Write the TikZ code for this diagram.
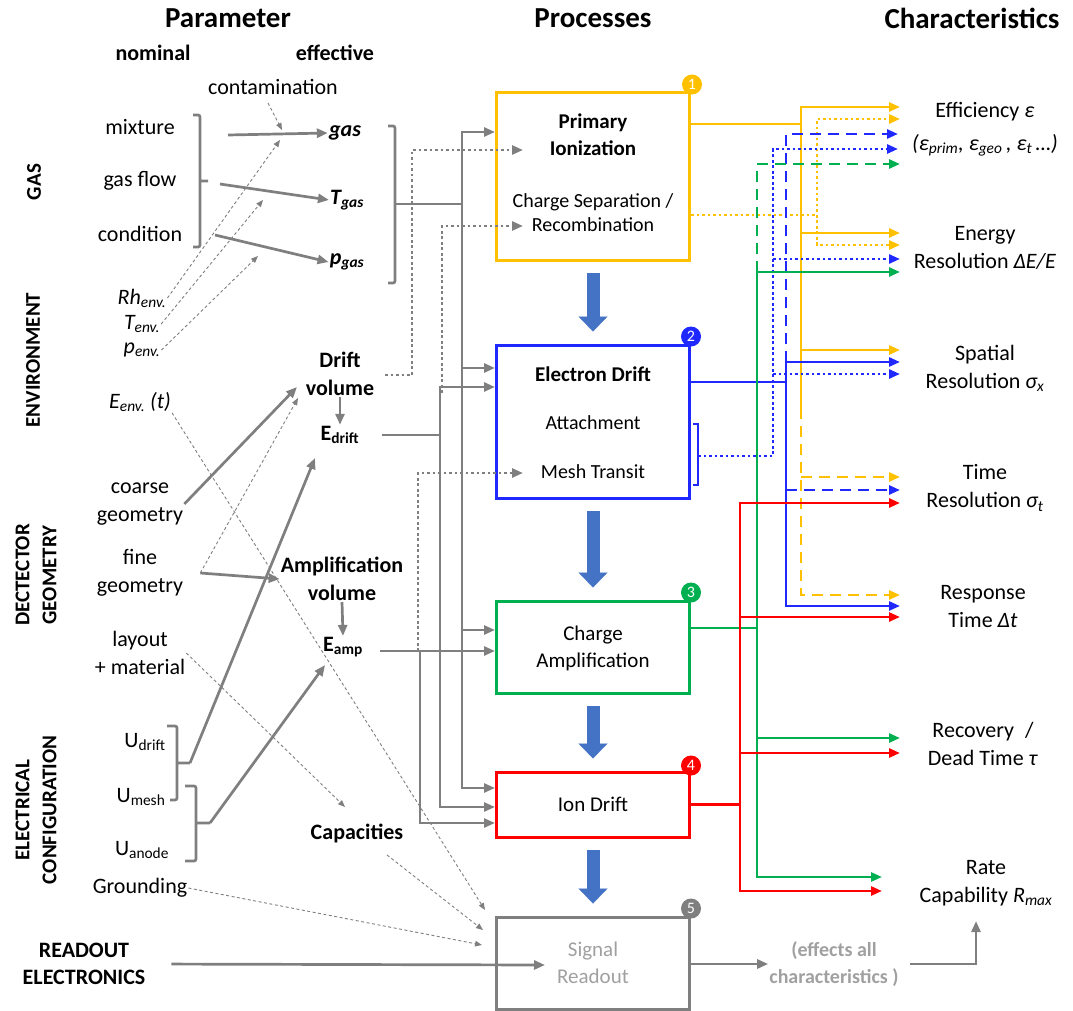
\documentclass[tikz,border=0pt]{standalone}
\usepackage{fontspec}
\setmainfont{Carlito}
\usepackage{xcolor}
\usepackage{tikz}
\usetikzlibrary{arrows.meta, positioning, calc}

\definecolor{lgray}{RGB}{127,127,127}
\definecolor{pale}{RGB}{160,160,160}
\definecolor{cyel}{RGB}{255,192,0}
\definecolor{cblu}{RGB}{30,40,255}
\definecolor{cgrn}{RGB}{0,176,80}
\definecolor{cred}{RGB}{255,0,0}
\definecolor{flowblue}{RGB}{68,114,196}

\begin{document}
\begin{tikzpicture}[x=1pt, y=-1pt,
    txt/.style={font=\fontsize{22}{28}\selectfont, align=center, inner sep=1pt},
    btxt/.style={txt, font=\fontsize{22}{28}\selectfont\bfseries},
    hdr/.style={font=\fontsize{29}{32}\selectfont\bfseries, inner sep=1pt},
    grp/.style={font=\fontsize{21}{27}\selectfont\bfseries, align=center, rotate=90, inner sep=1pt},
    proc/.style={draw=#1, line width=3pt, minimum width=193pt, inner sep=0pt},
    ttl/.style={font=\fontsize{21}{27}\selectfont\bfseries, align=center, inner sep=1pt},
    ptxt/.style={font=\fontsize{20}{24}\selectfont, align=center, inner sep=1pt},
    badge/.style={circle, fill=#1, text=white, inner sep=0pt, minimum size=20pt, font=\fontsize{16}{16}\selectfont},
    atip/.style={-{Triangle[length=11pt, width=9pt]}},
    gline/.style={draw=lgray, line width=2.7pt},
    garrow/.style={gline, atip},
    gdot/.style={gline, dash pattern=on 2.7pt off 2.8pt, atip},
    gdash/.style={draw=lgray, line width=0.9pt, dash pattern=on 3pt off 2.5pt, -{Triangle[length=7pt, width=5.5pt]}},
    brk/.style={draw=lgray, line width=2.7pt, rounded corners=2pt},
    cl/.style={draw=#1, line width=2.7pt},
    cdash/.style={dash pattern=on 11pt off 7pt},
    cdot/.style={dash pattern=on 2.7pt off 2.8pt},
    flow/.style={draw=flowblue, line width=13pt, -{Triangle[length=15pt, width=29pt, line width=0.1pt]}, shorten <=11pt, shorten >=12pt}
  ]
  \useasboundingbox (0,0) rectangle (1073,1011);

  % Headers
  \node[hdr] (hpar) at (228,18) {Parameter};
  \node[hdr] (hproc) at (593,18) {Processes};
  \node[hdr] (hchar) at (972,18) {Characteristics};
  \node[btxt] (hnom) at (153,53) {nominal};
  \node[btxt] (heff) at (335,53) {effective};

  % Groups
  \node[grp] (ggas) at (34,182) {GAS};
  \node[grp] (genv) at (33,360) {ENVIRONMENT};
  \node[grp] (ggeo) at (36,575) {DECTECTOR\\GEOMETRY};
  \node[grp] (gele) at (36,810) {ELECTRICAL\\CONFIGURATION};
  \node[btxt, font=\fontsize{22}{27}\selectfont\bfseries] (gread) at (84,964) {READOUT\\ELECTRONICS};

  % Nominal parameters
  \node[txt] (mix) at (140,127) {mixture};
  \node[txt] (gflow) at (140,181) {gas flow};
  \node[txt] (cond) at (140,234) {condition};
  \node[txt] (rh) at (142,298) {\textit{Rh\textsubscript{env.}}};
  \node[txt] (tenv) at (142,324) {\textit{T\textsubscript{env.}}};
  \node[txt] (penv) at (142,350) {\textit{p\textsubscript{env.}}};
  \node[txt] (eenv) at (140,402) {\textit{E\textsubscript{env.} (t)}};
  \node[txt] (coarse) at (140,504) {coarse\\geometry};
  \node[txt] (fine) at (140,573) {fine\\geometry};
  \node[txt] (layout) at (140,653) {layout\\+ material};
  \node[txt] (udrift) at (145,742) {U\textsubscript{drift}};
  \node[txt] (umesh) at (141,797) {U\textsubscript{mesh}};
  \node[txt] (uanode) at (142,850) {U\textsubscript{anode}};
  \node[txt] (ground) at (140,888) {Grounding};

  % Effective parameters
  \node[txt] (contam) at (273,87) {contamination};
  \node[btxt] (gas) at (345,133) {\textit{gas}};
  \node[btxt] (tgas) at (347,200) {\textit{T\textsubscript{gas}}};
  \node[btxt] (pgas) at (347,262) {\textit{p\textsubscript{gas}}};
  \node[btxt] (dvol) at (340,374) {Drift\\volume};
  \node[btxt] (edrift) at (340,435) {E\textsubscript{drift}};
  \node[btxt] (avol) at (342,579) {Amplification\\volume};
  \node[btxt] (eamp) at (343,647) {E\textsubscript{amp}};
  \node[btxt] (cap) at (357,833) {Capacities};

  % Processes
  \node[proc=cyel, minimum height=167pt] (pi) at (593,176.5) {};
  \node[proc=cblu, minimum height=153pt] (ed) at (593,421.5) {};
  \node[proc=cgrn, minimum height=92pt] (ca) at (593,647) {};
  \node[proc=cred, minimum height=65pt] (id) at (593,804.5) {};
  \node[proc=lgray, minimum height=92pt] (sr) at (593,963) {};

  \node[ttl] (pit) at (593,135) {Primary\\Ionization};
  \node[ptxt] (pis) at (593,213) {Charge Separation /\\Recombination};
  \node[ttl] (edt) at (593,374) {Electron Drift};
  \node[ptxt] (eda) at (593,423) {Attachment};
  \node[ptxt] (edm) at (593,472) {Mesh Transit};
  \node[ptxt, font=\fontsize{21}{27}\selectfont] (cat) at (593,648) {Charge\\Amplification};
  \node[ptxt, font=\fontsize{21}{27}\selectfont] (idt) at (593,804) {Ion Drift};
  \node[ptxt, font=\fontsize{21}{27}\selectfont, text=pale] (srt) at (593,963) {Signal\\Readout};

  \node[badge=cyel] (b1) at ([xshift=1pt,yshift=7pt]pi.north east) {1};
  \node[badge=cblu] (b2) at ([xshift=0pt,yshift=7pt]ed.north east) {2};
  \node[badge=cgrn] (b3) at ([xshift=0pt,yshift=7pt]ca.north east) {3};
  \node[badge=cred] (b4) at ([xshift=0pt,yshift=5pt]id.north east) {4};
  \node[badge=lgray] (b5) at ([xshift=0pt,yshift=7pt]sr.north east) {5};

  % Characteristics
  \node[txt] (eff) at (985,112) {Efficiency \textit{ε}};
  \node[txt] (effs) at (985,145) {\textit{(ε\textsubscript{prim}, ε\textsubscript{geo}\,, ε\textsubscript{t}\,…)}};
  \node[txt] (eres) at (985,248) {Energy\\Resolution \textit{ΔE/E}};
  \node[txt] (sres) at (985,368) {Spatial\\Resolution \textit{σ\textsubscript{x}}};
  \node[txt] (tres) at (985,488) {Time\\Resolution \textit{σ\textsubscript{t}}};
  \node[txt] (resp) at (983,607) {Response\\Time \textit{Δt}};
  \node[txt] (recov) at (983,744) {Recovery\enspace/\\Dead Time \textit{τ}};
  \node[txt] (rate) at (986,883) {Rate\\Capability \textit{R\textsubscript{max}}};
  \node[btxt, font=\fontsize{20}{27}\selectfont\bfseries, text=pale] (effall) at (834,964) {(effects all\\characteristics )};

  \coordinate (cin) at (900,0);
  \coordinate (ionin) at (523,150);
  \coordinate (recin) at (523,226);
  \coordinate (meshin) at (523,473);
  \coordinate (sigin) at (545,965);

  % Process flow
  \draw[flow] (pi.south) -- (ed.north);
  \draw[flow] (ed.south) -- (ca.north);
  \draw[flow] (ca.south) -- (id.north);
  \draw[flow] (id.south) -- (sr.north);

  % Brackets
  \draw[brk] (193,115) -- (200,115) -- (200,247) -- (193,247) (200,181) -- (208,181);
  \draw[brk] (388,126) -- (395,126) -- (395,283) -- (388,283);
  \draw[brk] (167,726) -- (177,726) -- (177,800) -- (170,800) (177,763) -- (190,763);
  \draw[brk] (185,786) -- (196,786) -- (196,861) -- (185,861) (196,823) -- (210,823);

  % Nominal to effective
  \draw[garrow] (228,135) -- (gas.west);
  \draw[garrow] (220,184) -- (tgas.west);
  \draw[garrow] (215,235) -- (pgas.west);
  \draw[garrow] (coarse.east) -- (297,387);
  \draw[garrow] ([xshift=16pt]fine.east) -- (avol.west);
  \draw[garrow] (190,763) -- (315,458);
  \draw[garrow] (210,823) -- (325,665);
  \draw[garrow] (dvol.south) -- (edrift.north);
  \draw[garrow] (avol.south) -- (eamp.north);

  % Side influences
  \draw[gdash] (268,103) -- (282,130);
  \draw[gdash] (rh.east) -- (280,140);
  \draw[gdash] (tenv.east) -- (263,200);
  \draw[gdash] (penv.east) -- (258,256);
  \draw[gdash] (eenv.south east) -- (485,910);
  \draw[gdash] ([xshift=16pt]fine.east) -- (298,398);
  \draw[gdash] (layout.east) -- (345,807);
  \draw[gdash] (387,855) -- (483,930);
  \draw[gdash] (ground.east) -- (482,945);

  % Effective to processes
  \draw[gline] (395,204) -- (462,204);
  \draw[garrow] (462,204) |- (pi.west |- 0,132);
  \draw[garrow] (462,204) |- (id.west |- 0,788);
  \draw[garrow] (462,368) -- (ed.west |- 0,368);
  \draw[garrow] (462,630) -- (ca.west |- 0,630);
  \draw[garrow, shorten <=22pt] (edrift.east) -| (440,387) -- (ed.west |- 0,387);
  \draw[garrow] (440,430) |- (id.west |- 0,807);
  \draw[garrow] (380,651) -- (ca.west |- 0,651);
  \draw[garrow] (420,651) |- (id.west |- 0,823);
  \draw[gdot] (385,375) -| (412,150) -- (ionin);
  \draw[gdot] (442,393) |- (recin);
  \draw[gdot] (418,651) |- (meshin);
  \draw[garrow, shorten <=25pt] (gread.east) -- (sigin);

  % Readout output
  \draw[garrow] (sr.east |- effall) -- (effall.west);
  \draw[garrow, shorten <=10pt, shorten >=14pt] (effall.east) -| ([xshift=-10pt]rate.south);

  % Primary ionization
  \draw[cl=cyel] (pi.east |- 0,124) -- (801,124);
  \draw[cl=cyel, atip] (801,408) |- (cin |- 0,107);
  \foreach \y in {233,350} \draw[cl=cyel, atip] (801,\y) -- (cin |- 0,\y);
  \draw[cl=cyel, cdash, atip] (801,408) |- (cin |- 0,595);
  \draw[cl=cyel, cdash, atip] (801,477) -- (cin |- 0,477);
  \draw[cl=cyel, cdot] (pi.east |- 0,215) -- (817,215);
  \draw[cl=cyel, cdot, atip] (817,245) |- (cin |- 0,119);
  \draw[cl=cyel, cdot, atip] (817,215) |- (cin |- 0,245);

  % Electron drift
  \draw[cl=cblu] (ed.east |- 0,382) -- (786,382);
  \draw[cl=cblu, atip] (786,606) |- (cin |- 0,362);
  \draw[cl=cblu, atip] (786,382) |- (cin |- 0,606);
  \draw[cl=cblu, cdash, atip] (786,490) -- (cin |- 0,490);
  \draw[cl=cblu, cdash, atip] (786,362) |- ([xshift=-2pt]cin |- 0,134);
  \draw[cl=cblu] (693,424) -- (698,424) -- (698,485) -- (693,485);
  \draw[cl=cblu, cdot, atip] (698,456) -| (773,149) -- ([xshift=-2pt]cin |- 0,149);
  \foreach \y in {259,374} \draw[cl=cblu, cdot, atip] (773,\y) -- (cin |- 0,\y);

  % Charge amplification
  \draw[cl=cgrn] (ca.east |- 0,628) -- (757,628);
  \draw[cl=cgrn, atip] (757,877) |- (cin |- 0,272);
  \draw[cl=cgrn, atip] (757,272) |- ([xshift=-18pt]cin |- 0,877);
  \draw[cl=cgrn, atip] (757,738) -- (cin |- 0,738);
  \draw[cl=cgrn, cdash, atip] (757,272) |- (cin |- 0,164);

  % Ion drift
  \draw[cl=cred] (id.east) -- (740,804.5);
  \draw[cl=cred, atip] (740,891) |- (cin |- 0,503);
  \draw[cl=cred, atip] (740,503) |- ([xshift=-18pt]cin |- 0,891);
  \foreach \y in {617,753} \draw[cl=cred, atip] (740,\y) -- (cin |- 0,\y);
\end{tikzpicture}
\end{document}
